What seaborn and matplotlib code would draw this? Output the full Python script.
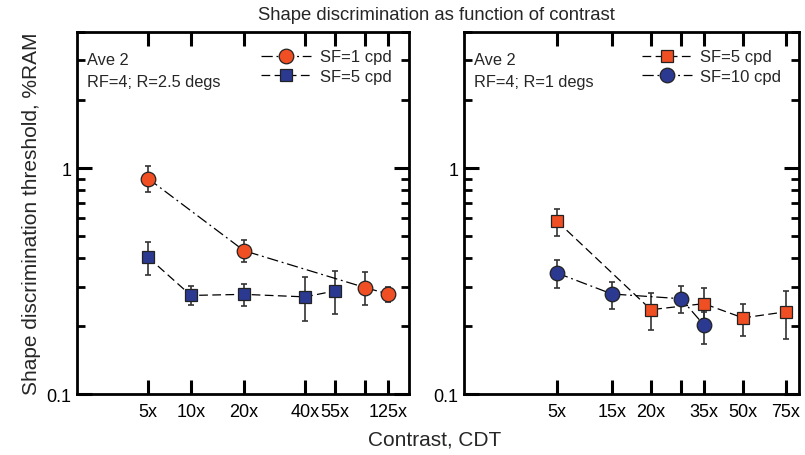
import numpy as np
import pandas as pd
import seaborn as sns
import matplotlib.pyplot as plt
from matplotlib.ticker import FixedLocator, NullFormatter, FixedFormatter

# left panel, R=2.5 degs
left_sf1_x = [5, 20, 100, 125]
left_sf1_y = [0.90, 0.432, 0.297, 0.278]
left_sf1_lo = [0.787, 0.385, 0.248, 0.256]
left_sf1_hi = [1.02, 0.482, 0.348, 0.300]

left_sf5_x = [5, 10, 20, 40, 55]
left_sf5_y = [0.404, 0.274, 0.277, 0.270, 0.287]
left_sf5_lo = [0.339, 0.248, 0.246, 0.211, 0.226]
left_sf5_hi = [0.472, 0.302, 0.309, 0.331, 0.350]

# right panel, R=1 degs
right_sf5_x = [5, 20, 35, 50, 75]
right_sf5_y = [0.583, 0.237, 0.252, 0.218, 0.232]
right_sf5_lo = [0.502, 0.192, 0.216, 0.182, 0.175]
right_sf5_hi = [0.663, 0.282, 0.296, 0.252, 0.286]

right_sf10_x = [5, 15, 25, 35]
right_sf10_y = [0.344, 0.278, 0.265, 0.203]
right_sf10_lo = [0.296, 0.239, 0.228, 0.168]
right_sf10_hi = [0.392, 0.314, 0.303, 0.232]

left_ticks = [5, 10, 20, 40, 55, 100, 125]
left_labels = ['5x', '10x', '20x', '40x', '55x', '', '125x']
right_ticks = [5, 15, 20, 25, 35, 50, 75]
right_labels = ['5x', '15x', '20x', '', '35x', '50x', '75x']

# where each tick sits along the axis (fraction of width)
left_tick_pos = [0.214, 0.343, 0.503, 0.687, 0.777, 0.867, 0.937]
right_tick_pos = [0.278, 0.442, 0.558, 0.648, 0.716, 0.833, 0.961]

ORANGE = '#f04e23'
BLUE = '#2b3990'
DASHDOT = (0, (9, 3, 1.5, 3))
DASHED = (0, (7, 3.5))

sns.set_style('ticks')
plt.rcParams['font.family'] = ['Liberation Sans', 'DejaVu Sans']
plt.rcParams['axes.linewidth'] = 2.0

fig = plt.figure(figsize=(8.05, 4.56), dpi=100)
ax1 = fig.add_axes([0.0957, 0.1327, 0.4124, 0.795])
ax2 = fig.add_axes([0.5764, 0.1327, 0.4161, 0.795])


def make_scale(ticks, pos):
    lt = np.log10(np.r_[2.0, ticks, 160.0])
    ps = np.r_[0.0, pos, 1.0]
    lt[0] = np.log10(ticks[0]) - pos[0] / (pos[1] - pos[0]) * (lt[2] - lt[1])
    lt[-1] = np.log10(ticks[-1]) + (1 - pos[-1]) / (pos[-1] - pos[-2]) * (lt[-2] - lt[-3])

    def fwd(x):
        x = np.clip(np.asarray(x, dtype=float), 1e-3, None)
        return np.interp(np.log10(x), lt, ps)

    def inv(p):
        return 10 ** np.interp(np.asarray(p, dtype=float), ps, lt)

    return (fwd, inv), 10 ** lt[0], 10 ** lt[-1]


def series(ax, x, y, lo, hi, marker, color, ls, label, ms):
    df = pd.DataFrame({'x': x, 'y': y})
    yerr = [np.array(y) - np.array(lo), np.array(hi) - np.array(y)]
    ax.errorbar(x, y, yerr=yerr, fmt='none', ecolor='#333333', elinewidth=1.2,
                capsize=2.5, capthick=1.2, zorder=2)
    sns.lineplot(data=df, x='x', y='y', ax=ax, color='black', lw=0.9,
                 linestyle=ls, marker=marker, markersize=ms,
                 markerfacecolor=color, markeredgecolor='#222222',
                 markeredgewidth=0.9, label=label, zorder=3)


def style_axes(ax, ticks, pos, labels, note, handles_order):
    funcs, lo, hi = make_scale(ticks, pos)
    ax.set_xscale('function', functions=funcs)
    ax.set_xlim(lo, hi)
    ax.set_yscale('log')
    ax.set_ylim(0.1, 4.0)
    ax.xaxis.set_major_locator(FixedLocator(ticks))
    ax.xaxis.set_major_formatter(FixedFormatter(labels))
    ax.xaxis.set_minor_locator(FixedLocator([]))
    ax.yaxis.set_major_locator(FixedLocator([0.1, 1]))
    ax.yaxis.set_major_formatter(FixedFormatter(['0.1', '1']))
    ax.yaxis.set_minor_locator(FixedLocator([0.2, 0.3, 0.4, 0.5, 0.6, 0.7, 0.8, 0.9, 2, 3, 4]))
    ax.yaxis.set_minor_formatter(NullFormatter())
    ax.tick_params(axis='both', which='both', direction='in', top=True, right=True,
                   labelsize=13, colors='black')
    ax.tick_params(axis='x', which='major', length=10, width=2.2, pad=6)
    ax.tick_params(axis='y', which='major', length=11, width=2.2, pad=4)
    ax.tick_params(axis='y', which='minor', length=6, width=2.0)
    for s in ax.spines.values():
        s.set_visible(True)
        s.set_color('black')
    ax.set_xlabel('')
    ax.set_ylabel('')
    ax.text(0.03, 0.945, note, transform=ax.transAxes, ha='left', va='top',
            fontsize=11.8, linespacing=1.6)
    h, l = ax.get_legend_handles_labels()
    ax.legend([h[i] for i in handles_order], [l[i] for i in handles_order],
              loc='upper right', frameon=False, fontsize=12, handlelength=3.0,
              handletextpad=0.5, labelspacing=0.25, borderaxespad=0.65)


series(ax1, left_sf1_x, left_sf1_y, left_sf1_lo, left_sf1_hi, 'o', ORANGE, DASHDOT, 'SF=1 cpd', 10.5)
series(ax1, left_sf5_x, left_sf5_y, left_sf5_lo, left_sf5_hi, 's', BLUE, DASHED, 'SF=5 cpd', 9)
style_axes(ax1, left_ticks, left_tick_pos, left_labels, 'Ave 2\nRF=4; R=2.5 degs', [0, 1])

series(ax2, right_sf5_x, right_sf5_y, right_sf5_lo, right_sf5_hi, 's', ORANGE, DASHED, 'SF=5 cpd', 9)
series(ax2, right_sf10_x, right_sf10_y, right_sf10_lo, right_sf10_hi, 'o', BLUE, DASHDOT, 'SF=10 cpd', 10.5)
style_axes(ax2, right_ticks, right_tick_pos, right_labels, 'Ave 2\nRF=4; R=1 degs', [0, 1])

ax1.set_ylabel('Shape discrimination threshold, %RAM', fontsize=15, labelpad=4)
fig.text(0.542, 0.967, 'Shape discrimination as function of contrast', ha='center',
         va='center', fontsize=13.3)
fig.text(0.54, 0.035, 'Contrast, CDT', ha='center', va='center', fontsize=15)

fig.savefig('out.png', dpi=100)
